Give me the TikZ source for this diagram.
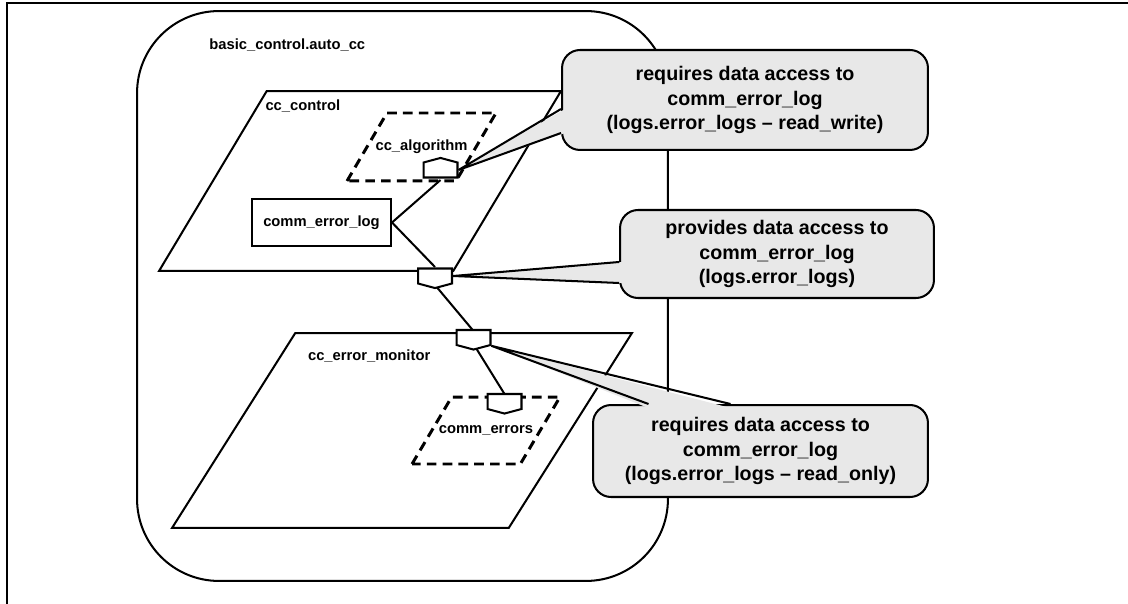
\documentclass[tikz,border=0pt]{standalone}
\usepackage{fontspec}
\setmainfont{Liberation Sans}
\usetikzlibrary{positioning,calc,shapes.geometric,shapes.symbols}
\definecolor{cNoteF}{HTML}{E8E8E8}
\tikzset{
  thk/.style  = {line width=1.15pt},
  lbl/.style  = {font=\fontsize{8.4}{10}\selectfont\bfseries, inner sep=0pt},
  comp/.style = {trapezium, trapezium left angle=60, trapezium right angle=120,
                 trapezium stretches=true, draw, thk, inner sep=1pt},
  impl/.style = {comp, line width=1.7pt, dash pattern=on 5.5pt off 3.5pt},
  port/.style = {signal, draw, thk, fill=white, inner sep=0pt,
                 minimum width=0.68cm, minimum height=0.3cm, signal pointer angle=150},
  note/.style = {rectangle, rounded corners=0.36cm, draw, thk, fill=cNoteF,
                 align=center, font=\fontsize{11.2}{13.9}\selectfont\bfseries},
  link/.style = {thk},
}
\begin{document}
\begin{tikzpicture}[x=0.02cm, y=-0.02cm]
  \useasboundingbox (0,0) rectangle (1128,604);
  \draw[thk] (7,604) -- (7,3) -- (1128,3);
  % outer package
  \node[draw, thk, rounded corners=1.64cm, minimum width=10.62cm, minimum height=11.4cm] (auto) at (402.5,296) {};
  \node[lbl, anchor=west] at (209,45) {basic\_control.auto\_cc};
  % components
  \node[comp, minimum width=8.04cm, minimum height=3.6cm] (ctl) at (360,181) {};
  \node[lbl, anchor=west] at ($(ctl.top left corner)+(-1,16)$) {cc\_control};
  \node[impl, minimum width=2.98cm, minimum height=1.36cm] (alg) at (421.5,147) {};
  \node[lbl] at (alg.center) {cc\_algorithm};
  \node[draw, thk, lbl, minimum width=2.78cm, minimum height=0.94cm] (log) at (321.5,222.5) {comm\_error\_log};
  \node[comp, minimum width=9.2cm, minimum height=3.9cm] (mon) at (402,430.5) {};
  \node[lbl, anchor=west] at ($(mon.top left corner)+(13,24)$) {cc\_error\_monitor};
  \node[impl, minimum width=2.96cm, minimum height=1.34cm] (errs) at (486,430.5) {};
  \node[lbl] at (errs.center) {comm\_errors};
  % links
  \draw[link] (log.east) -- (440.5,180) coordinate (a1);
  \draw[link] (log.east) -- (435,267) coordinate (a2);
  \draw[link] (435,285) -- (473.5,331);
  \draw[link] (473.5,344) -- (504.5,394);
  % ports
  \node[port, signal to=north] (pAlg) at (440.5,170) {};
  \node[port, signal to=south] (pCtl) at (435,276) {};
  \node[port, signal to=south] (pMon) at (473.5,337.5) {};
  \node[port, signal to=south] (pErr) at (504.5,401.5) {};
  % notes
  \node[note, minimum width=7.32cm, minimum height=2cm] (n1) at (745,100)
    {requires data access to\\comm\_error\_log\\(logs.error\_logs -- read\_write)};
  \fill[cNoteF] ($(n1.west)+(4,9)$) -- (pAlg.east) -- ($(n1.west)+(4,33)$) -- cycle;
  \draw[link] ($(n1.west)+(0,9)$) -- (pAlg.east) -- ($(n1.west)+(0,33)$);
  \node[note, minimum width=6.28cm, minimum height=1.76cm] (n2) at (777,254)
    {provides data access to\\comm\_error\_log\\(logs.error\_logs)};
  \fill[cNoteF] ($(n2.west)+(4,8)$) -- (pCtl.east) -- ($(n2.west)+(4,29)$) -- cycle;
  \draw[link] ($(n2.west)+(0,8)$) -- (pCtl.east) -- ($(n2.west)+(0,29)$);
  \node[note, minimum width=6.7cm, minimum height=1.84cm] (n3) at (760.5,451)
    {requires data access to\\comm\_error\_log\\(logs.error\_logs -- read\_only)};
  \fill[cNoteF] ($(n3.north)+(-112,4)$) -- (pMon.-25) -- ($(n3.north)+(-30,4)$) -- cycle;
  \draw[link] ($(n3.north)+(-112,0)$) -- (pMon.-25) -- ($(n3.north)+(-30,0)$);
\end{tikzpicture}
\end{document}
